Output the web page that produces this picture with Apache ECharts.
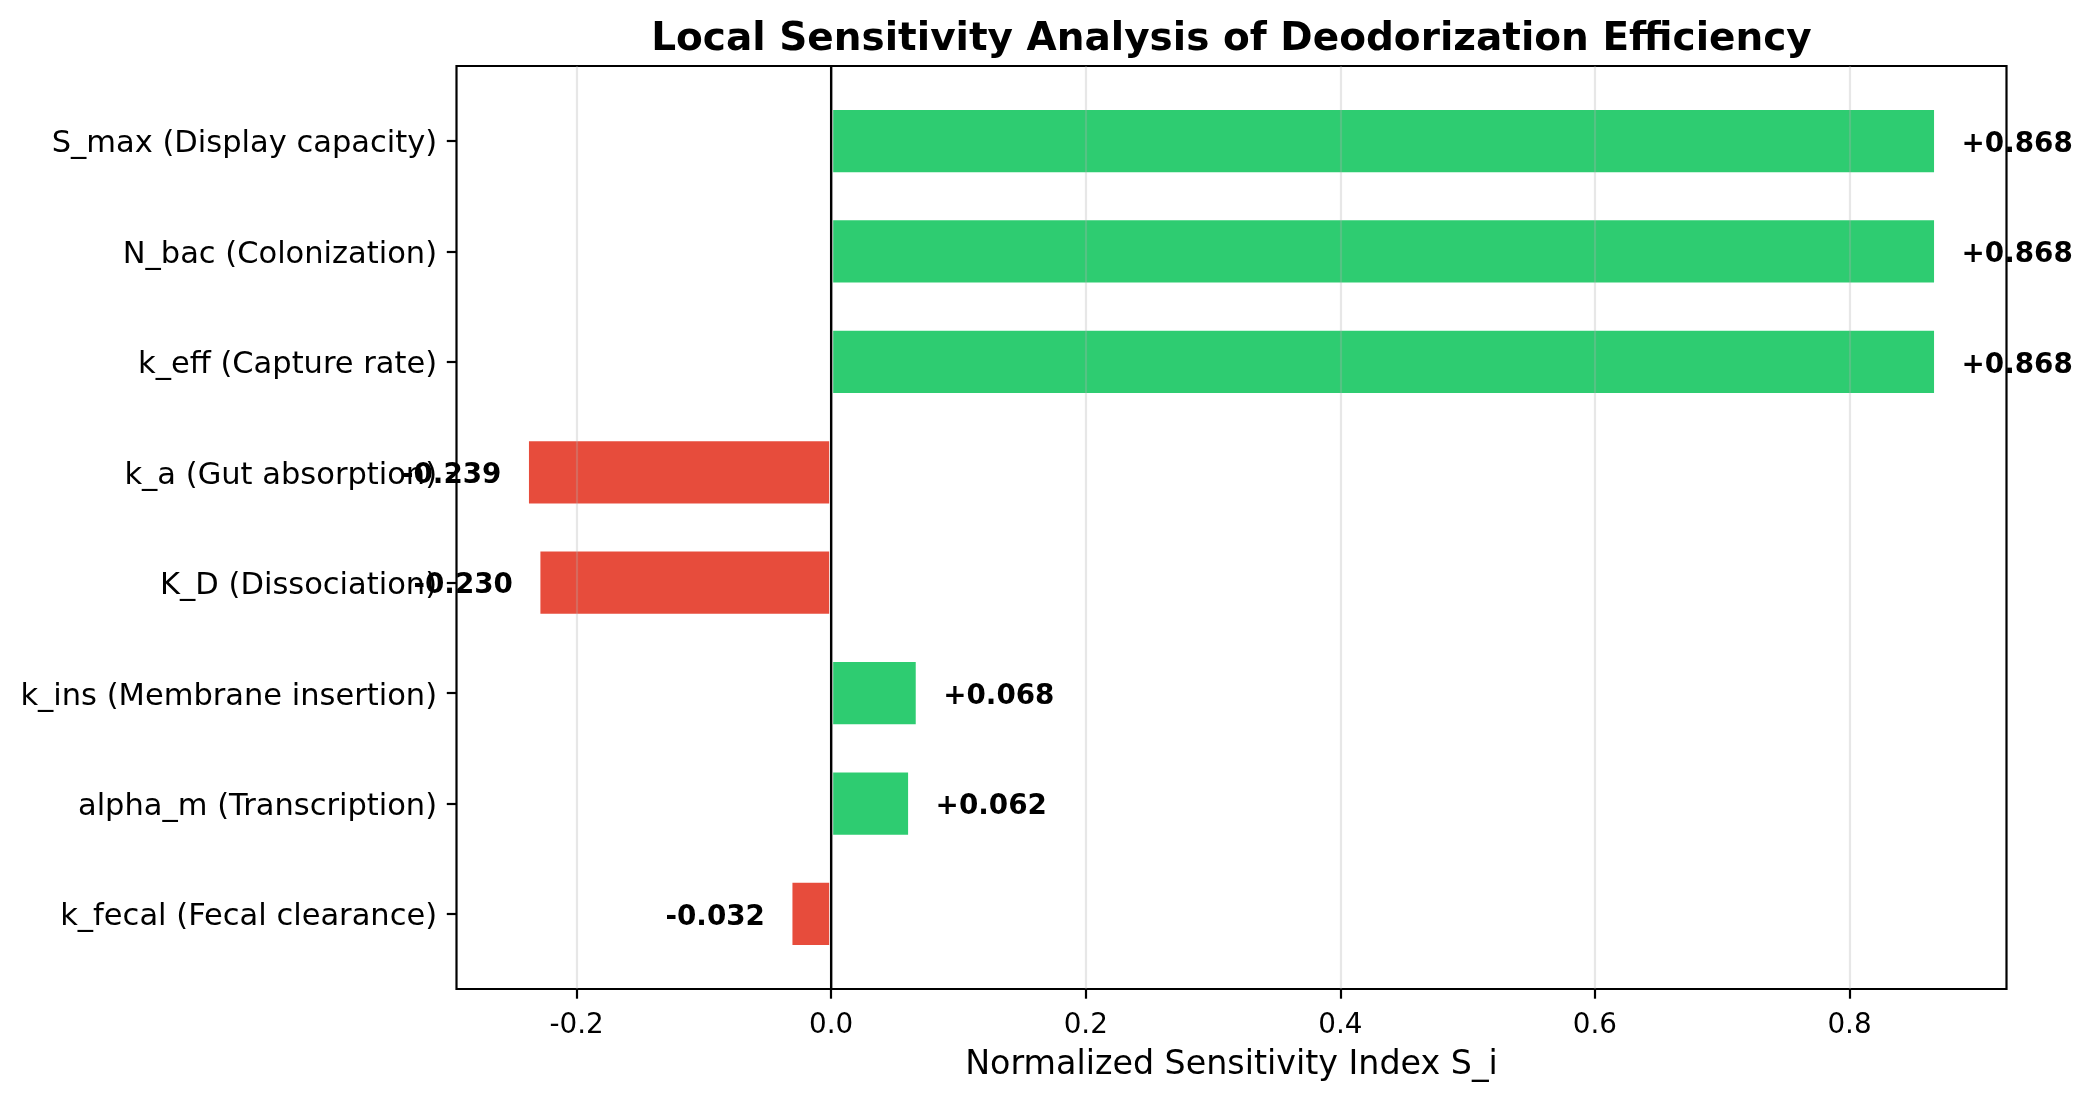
<!DOCTYPE html>
<html>
<head>
<meta charset="utf-8">
<script src="https://cdn.jsdelivr.net/npm/echarts@6/dist/echarts.min.js"></script>
<style>
  html,body{margin:0;padding:0;background:#fff;}
  #chart{width:2093px;height:1103px;}
</style>
</head>
<body>
<div id="chart"></div>
<script>
var categories=['S_max (Display capacity)','N_bac (Colonization)','k_eff (Capture rate)','k_a (Gut absorption)','K_D (Dissociation)','k_ins (Membrane insertion)','alpha_m (Transcription)','k_fecal (Fecal clearance)'];
var sensitivity=[0.868,0.868,0.868,-0.239,-0.230,0.068,0.062,-0.032];
var xTicks=[-0.2,0.0,0.2,0.4,0.6,0.8];

var font='DejaVu Sans';
// plot frame (px)
var frame={left:456.5,right:86.5,top:66,bottom:114};
var frameH=1103-frame.top-frame.bottom;
// matplotlib-like 5% margins
var lo=Math.min.apply(null,sensitivity),hi=Math.max.apply(null,sensitivity);
var pad=(hi-lo)*0.05;
var xMin=lo-pad,xMax=hi+pad;
// bars span -0.3..n-0.7, plus 5%
var ySpan=(categories.length-1+0.6)*1.1;
var unit=frameH/ySpan;
var inset=(frameH-unit*categories.length)/2;

var barData=sensitivity.map(function(v){
  return {
    value:v,
    itemStyle:{color:v>=0?'#2ecc71':'#e74c3c'},
    label:{position:v>=0?'right':'left'}
  };
});

var myChart=echarts.init(document.getElementById('chart'));
var option={
  animation:false,
  backgroundColor:'#fff',
  title:{
    text:'Local Sensitivity Analysis of Deodorization Efficiency',
    left:frame.left+(2093-frame.left-frame.right)/2,
    textAlign:'center',
    top:20,
    padding:0,
    textStyle:{fontFamily:font,fontWeight:'bold',fontSize:39,color:'#000'}
  },
  grid:[{
    left:frame.left,right:frame.right,
    top:frame.top+inset,bottom:frame.bottom+inset
  },{
    left:frame.left,right:frame.right,
    top:frame.top,bottom:frame.bottom,
    show:true,borderColor:'#000',borderWidth:2.2,backgroundColor:'transparent'
  }],
  xAxis:[{
    type:'value',gridIndex:0,min:xMin,max:xMax,show:false
  },{
    type:'value',gridIndex:1,min:xMin,max:xMax,z:3,
    axisLine:{show:false},
    axisTick:{show:true,length:9.7,customValues:xTicks,lineStyle:{color:'#000',width:2.2}},
    axisLabel:{customValues:xTicks,margin:23,fontFamily:font,fontSize:27.8,color:'#000',
      formatter:function(v){return v.toFixed(1);}},
    splitLine:{show:true,lineStyle:{color:'rgba(176,176,176,0.3)',width:2.2}},
    name:'Normalized Sensitivity Index S_i',
    nameLocation:'middle',nameGap:60,
    nameTextStyle:{fontFamily:font,fontSize:33.3,color:'#000'}
  }],
  yAxis:[{
    type:'category',gridIndex:0,inverse:true,data:categories,
    axisLine:{show:false,onZero:false},
    axisTick:{show:true,alignWithLabel:true,length:9.7,lineStyle:{color:'#000',width:2.2}},
    axisLabel:{margin:19.4,verticalAlign:'top',lineHeight:7,fontFamily:font,fontSize:30.5,color:'#000'},
    splitLine:{show:false}
  },{
    type:'value',gridIndex:1,min:0,max:1,show:false
  }],
  series:[{
    type:'bar',
    xAxisIndex:0,yAxisIndex:0,
    barWidth:'60%',
    data:barData,
    itemStyle:{borderColor:'#fff',borderWidth:2},
    label:{
      show:true,distance:25.5,offset:[0,3.5],
      fontFamily:font,fontWeight:'bold',fontSize:27.8,color:'#000',
      formatter:function(p){return (p.value>=0?'+':'')+p.value.toFixed(3);}
    }
  },{
    // zero reference line across the whole frame
    type:'line',
    xAxisIndex:1,yAxisIndex:1,
    data:[[0,0],[0,1]],
    symbol:'none',z:10,silent:true,
    lineStyle:{color:'#000',width:2.4}
  }]
};
myChart.setOption(option);
</script>
</body>
</html>
